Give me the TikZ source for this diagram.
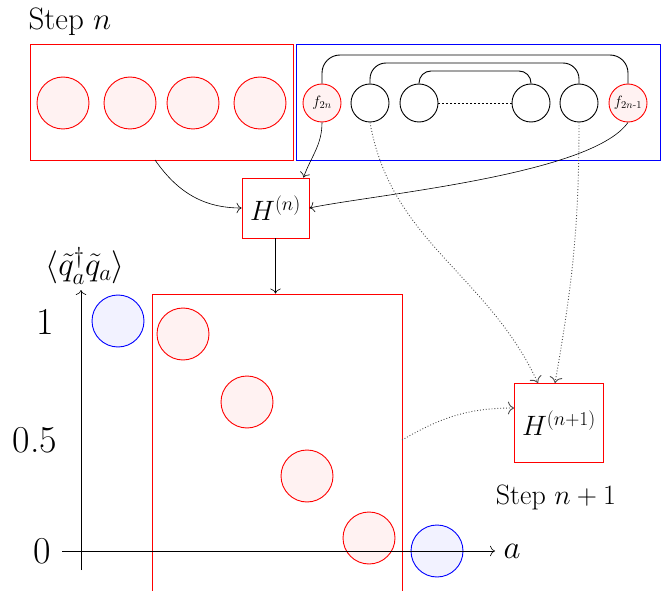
\RequirePackage{fix-cm}
\documentclass[tikz,border=0pt]{standalone}
\usepackage{amsmath}
\usetikzlibrary{positioning, arrows.meta}

\tikzset{
  >={To[scale=1.7]},
  site/.style={circle, draw=red, fill=red!5, minimum size=52pt, inner sep=0pt},
  hole/.style={circle, draw=blue, fill=blue!5, minimum size=52pt, inner sep=0pt},
  link/.style={circle, draw=black, minimum size=38pt, inner sep=0pt},
  fsite/.style={circle, draw=red, fill=red!5, minimum size=38pt, inner sep=0pt, font=\fontsize{15}{17}\selectfont},
  hbox/.style={draw=red, fill=white, inner sep=0pt, font=\fontsize{28}{34}\selectfont},
  ticklab/.style={font=\fontsize{38}{44}\selectfont},
  axlab/.style={font=\fontsize{33}{40}\selectfont},
  flow/.style={dotted, black!70},
}

\begin{document}
\begin{tikzpicture}[x=1pt, y=1pt, line width=0.9pt, every node/.style={font=\fontsize{31}{37}\selectfont}]

\useasboundingbox (0,0) rectangle (670,-591);

% STEP n
\node (stepn) at (70,-22) {Step $n$};

% boxes behind the sites
\node[draw=red, minimum width=263pt, minimum height=116pt] (occ) at (161.5,-102) {};
\node[draw=blue, minimum width=364pt, minimum height=116pt] (chain) at (478,-102) {};

%occupied sites
\node[site] (s1) at (63,-103) {};
\node[site] (s2) at (130,-103) {};
\node[site] (s3) at (193,-103) {};
\node[site] (s4) at (260,-103) {};

%chain sites
\node[fsite] (f2n) at (322,-103) {$f_{2n}$};
\node[link] (c1) at (370,-103) {};
\node[link] (c2) at (419,-103) {};
\node[link] (c3) at (531,-103) {};
\node[link] (c4) at (579,-103) {};
\node[fsite] (f2n1) at (628,-103) {$f_{2n\text{-}1}$};

%brackets over the chain
\draw[rounded corners=18pt] (f2n.north) -- (f2n.north |- 0,-55) -- (f2n1.north |- 0,-55) -- (f2n1.north);
\draw[rounded corners=16pt] (c1.north) -- (c1.north |- 0,-63) -- (c4.north |- 0,-63) -- (c4.north);
\draw[rounded corners=12pt] (c2.north) -- (c2.north |- 0,-71) -- (c3.north |- 0,-71) -- (c3.north);
\draw[dash pattern=on 2pt off 2pt, line width=0.6pt] (c2.east) -- (c3.west);

% hamiltonians
\node[hbox, minimum width=67pt, minimum height=60pt] (Hn) at (275.5,-208) {$H^{(n)}$};
\node[hbox, minimum width=89pt, minimum height=79pt] (Hnn) at (559,-423) {$H^{(n+1)}$};
\node[font=\fontsize{28}{34}\selectfont] (stepnn) at (556,-497) {Step $n+1$};

%arrows into H^(n)
\coordinate (occout) at (155,-160);
\draw[->, line width=0.6pt] (occout) to[out=-55, in=180] (Hn.west);
\draw[->, line width=0.6pt] (f2n.south) to[out=-90, in=70] ([xshift=-6pt]Hn.north east);
\draw[->, line width=0.6pt] (f2n1.south) to[out=-125, in=12, looseness=0.5] (Hn.east);

% occupation plot
\node[draw=red, minimum width=250pt, minimum height=310pt] (big) at (277,-449) {};
\draw[->, line width=0.6pt] (Hn.south) -- (Hn.south |- big.north);

\node[hole] (b1) at (118,-321) {};
\node[hole] (b2) at (437,-551) {};
\node[site] (r1) at (183,-334) {};
\node[site] (r2) at (247,-402) {};
\node[site] (r3) at (307,-476) {};
\node[site] (r4) at (369,-538) {};

%axes
\coordinate (ybot) at (81,-570);
\coordinate (ytop) at (81,-290);
\coordinate (xleft) at (62,-551);
\coordinate (xright) at (495,-551);
\draw[->, line width=0.6pt] (ybot) -- (ytop);
\draw[->, line width=0.6pt] (xleft) -- (xright);
\node[axlab] (ylab) at (85,-266) {$\langle\tilde{q}_a^\dagger\tilde{q}_a\rangle$};
\node[axlab] (xlab) at (512,-551) {$a$};
\node[ticklab] (t1) at (45,-322) {1};
\node[ticklab] (t05) at (35,-440) {0.5};
\node[ticklab] (t0) at (42,-551) {0};

%arrows into H^(n+1)
\coordinate (bigout) at (402,-440);
\draw[->, flow] (c1.south) to[out=-80, in=115] ([xshift=-21pt]Hnn.north);
\draw[->, flow] (c4.south) to[out=-90, in=80] ([xshift=-4pt]Hnn.north);
\draw[->, flow] (bigout) to[out=30, in=180] ([yshift=15pt]Hnn.west);

\end{tikzpicture}
\end{document}
